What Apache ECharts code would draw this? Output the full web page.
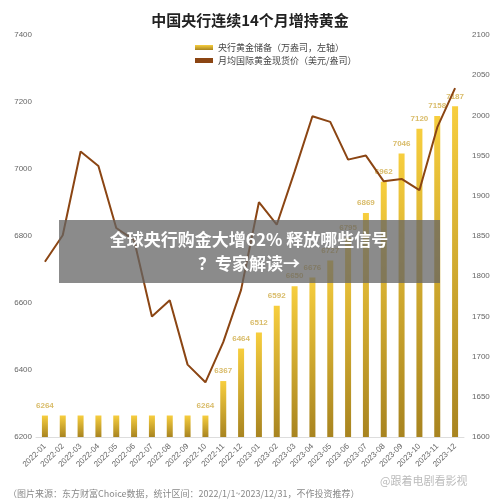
<!DOCTYPE html><html><head><meta charset="utf-8"><script src="https://cdn.jsdelivr.net/npm/echarts@6/dist/echarts.min.js"></script></head><body style="margin:0"><div id="c" style="width:500px;height:504px"></div><script>
const categories=['2022-01','2022-02','2022-03','2022-04','2022-05','2022-06','2022-07','2022-08','2022-09','2022-10','2022-11','2022-12','2023-01','2023-02','2023-03','2023-04','2023-05','2023-06','2023-07','2023-08','2023-09','2023-10','2023-11','2023-12'];
const reserves=[6264,6264,6264,6264,6264,6264,6264,6264,6264,6264,6367,6464,6512,6592,6650,6676,6727,6795,6869,6962,7046,7120,7158,7187];
const price=[1818,1851,1955,1937,1860,1845,1750,1770,1690,1668,1718,1783,1892,1864,1930,1999,1992,1945,1950,1918,1921,1907,1985,2034];
const barLabelIdx=[0,9,10,11,12,13,14,15,16,17,18,19,20,21,22,23];
const lineLabelIdx=[2,9,15,21,23];
const ch=echarts.init(document.getElementById('c'));
const f='"Noto Sans CJK SC",sans-serif';
ch.setOption({
title:{text:'中国央行连续14个月增持黄金',left:'center',top:8,textStyle:{fontFamily:f,fontSize:15,fontWeight:'bold',color:'#222'}},
legend:{top:38,left:190,orient:'vertical',itemGap:4,itemWidth:18,itemHeight:5,textStyle:{fontFamily:f,fontSize:9,color:'#444'},
 data:[{name:'央行黄金储备（万盎司，左轴）',icon:'rect'},{name:'月均国际黄金现货价（美元/盎司）',icon:'rect',itemStyle:{color:'#8b4513'}}]},
grid:{left:36,right:36,top:35,bottom:67},
xAxis:{type:'category',data:categories,axisTick:{show:false},axisLine:{lineStyle:{color:'#ddd'}},axisLabel:{rotate:45,fontSize:8,color:'#666',interval:0}},
yAxis:[{type:'value',min:6200,max:7400,interval:200,splitLine:{show:false},axisLabel:{fontSize:8,color:'#666',margin:4,formatter:v=>String(v)}},
{type:'value',min:1600,max:2100,interval:50,splitLine:{show:false},axisLabel:{fontSize:8,color:'#666',margin:8,formatter:v=>String(v)}}],
series:[{name:'央行黄金储备（万盎司，左轴）',type:'bar',barWidth:6,
 itemStyle:{color:new echarts.graphic.LinearGradient(0,0,0,1,[{offset:0,color:'#f7ce3e'},{offset:1,color:'#a88420'}])},
 data:reserves.map((v,i)=>({value:v,label:{show:barLabelIdx.includes(i)}})),
 label:{position:'top',fontSize:8,fontWeight:'bold',color:'#d9bc6a',distance:6}},
{name:'月均国际黄金现货价（美元/盎司）',type:'line',yAxisIndex:1,symbol:'none',lineStyle:{color:'#8b4513',width:2},itemStyle:{color:'#8b4513'},
 data:price.map((v,i)=>({value:v,label:{show:lineLabelIdx.includes(i)}})),
 label:{position:'top',fontSize:8,fontWeight:'bold',color:'#8b4513',distance:4}}],
graphic:[{type:'rect',z:100,shape:{x:59,y:220,width:381,height:63},style:{fill:'rgba(100,100,100,0.75)'}},
{type:'text',z:101,x:249,y:240,style:{text:'全球央行购金大增62% 释放哪些信号',fontFamily:f,fontSize:17,fontWeight:'bold',fill:'#fff',align:'center',verticalAlign:'middle'}},
{type:'text',z:101,x:249,y:264,style:{text:'？专家解读→',fontFamily:f,fontSize:17,fontWeight:'bold',fill:'#fff',align:'center',verticalAlign:'middle'}},
{type:'text',x:8,y:489,style:{text:'（图片来源：东方财富Choice数据，统计区间：2022/1/1~2023/12/31，不作投资推荐）',fontFamily:f,fontSize:9,fill:'#888'}},
{type:'text',x:380,y:475,style:{text:'@跟着电剧看影视',fontFamily:f,fontSize:11,fill:'#bbb'}}]
});
</script></body></html>
